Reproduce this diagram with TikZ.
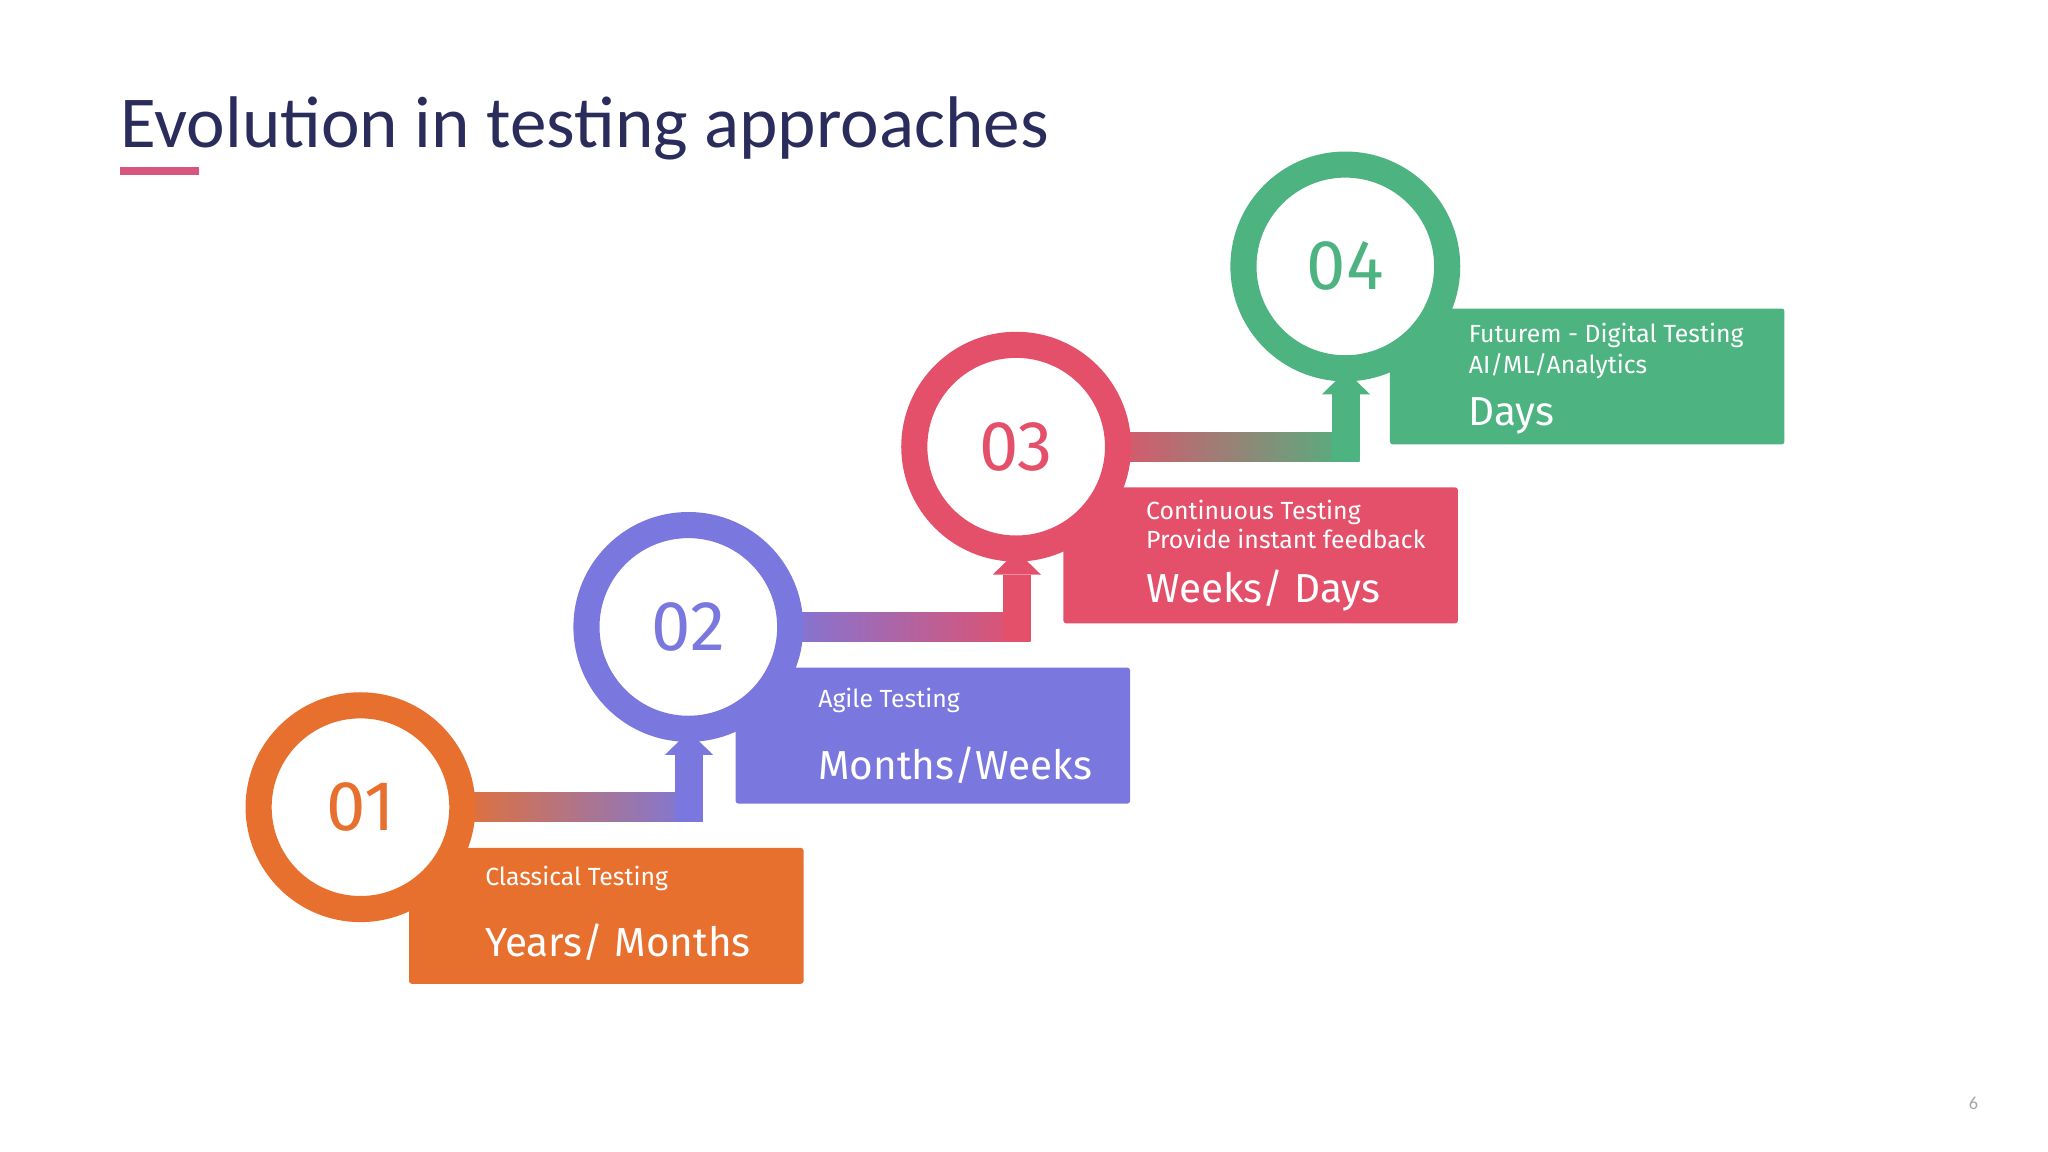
\documentclass[tikz,border=0pt]{standalone}
\usepackage{fontspec}
\setmainfont{Fira Sans}
\newfontfamily\titlefont{Carlito}
\usetikzlibrary{shadings}
\definecolor{cOne}{HTML}{E8702F}
\definecolor{cTwo}{HTML}{7A78DE}
\definecolor{cThree}{HTML}{E4506A}
\definecolor{cFour}{HTML}{4DB381}
\definecolor{titlec}{HTML}{2A2D5C}
\definecolor{pinkline}{HTML}{D6567E}
\tikzset{
  ring/.style={circle, minimum size=156pt, line width=20pt, fill=white, inner sep=0pt, font=\fontsize{54}{54}\selectfont},
  card/.style={rectangle, minimum width=302pt, minimum height=104pt, inner sep=0pt, rounded corners=2pt},
  small/.style={font=\fontsize{19}{21}\selectfont, text=white, anchor=base west},
  big/.style={font=\fontsize{31}{33}\selectfont, text=white, anchor=base west}
}
\newcommand{\stepconn}[5]{% x-right-of-circle, ybar, xvert, colA, colB
  \shade[left color=#4, right color=#5] (#1,#2-11) rectangle (#3+11,#2+11);
  \fill[#5] (#3-10,#2+11) rectangle (#3+11,#2-40);
  \fill[#5] (#3-18,#2-40) -- (#3+19,#2-40) -- (#3+0.5,#2-58) -- cycle;
}
\begin{document}
\begin{tikzpicture}[x=1pt,y=-1pt]
\useasboundingbox (0,0) rectangle (1568,882);
\fill[white] (0,0) rectangle (1568,882);
\node[anchor=base west, text=titlec, font=\titlefont\fontsize{56}{56}\selectfont, inner sep=0pt] (title) at (92,113) {Evolution in testing approaches};
\fill[pinkline] (92,128) rectangle (152,134);
\node[text=gray!70, font=\titlefont\fontsize{14}{14}\selectfont] (page) at (1511,845) {6};
% cards
\node[card, fill=cOne, anchor=north west] (b1) at (313,649) {};
\node[card, fill=cTwo, anchor=north west] (b2) at (563,511) {};
\node[card, fill=cThree, anchor=north west] (b3) at (814,373) {};
\node[card, fill=cFour, anchor=north west] (b4) at (1064,236) {};
% connectors
\stepconn{340}{618}{527}{cOne}{cTwo}
\stepconn{590}{480}{778}{cTwo}{cThree}
\stepconn{840}{342}{1030}{cThree}{cFour}
% circles
\node[ring, draw=cOne, text=cOne] (c1) at (276,618) {01};
\node[ring, draw=cTwo, text=cTwo] (c2) at (527,480) {02};
\node[ring, draw=cThree, text=cThree] (c3) at (778,342) {03};
\node[ring, draw=cFour, text=cFour] (c4) at (1030,204) {04};
% texts
\node[small] (t1a) at (368,678) {Classical Testing};
\node[big] (t1b) at (368,732) {Years/ Months};
\node[small] (t2a) at (623,542) {Agile Testing};
\node[big] (t2b) at (623,597) {Months/Weeks};
\node[small] (t3a) at (874,398) {Continuous Testing};
\node[small] (t3c) at (874,420) {Provide instant feedback};
\node[big] (t3b) at (874,461) {Weeks/ Days};
\node[small] (t4a) at (1121,262) {Futurem - Digital Testing};
\node[small] (t4c) at (1121,286) {AI/ML/Analytics};
\node[big] (t4b) at (1121,326) {Days};
\end{tikzpicture}
\end{document}
